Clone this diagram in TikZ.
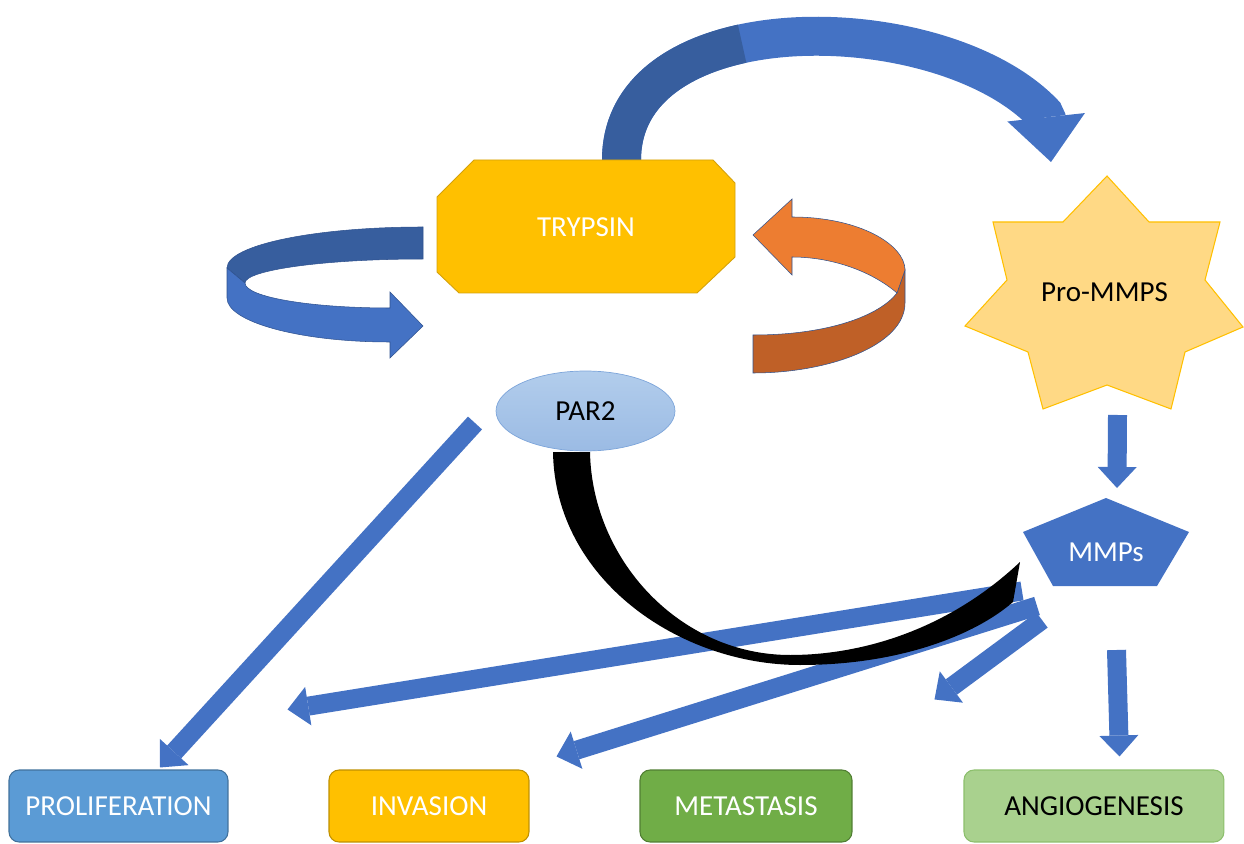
\documentclass[tikz,border=0pt]{standalone}
\usepackage{fontspec}
\setmainfont{Carlito}
\usepackage{xcolor}
\usepackage{tikz}
\usetikzlibrary{positioning,calc,arrows.meta,shapes.geometric}

\definecolor{mmpblue}{HTML}{4472C4}
\definecolor{shadeblue}{HTML}{375E9E}
\definecolor{gold}{HTML}{FFC000}
\definecolor{goldline}{HTML}{D4A10A}
\definecolor{starfill}{HTML}{FFD985}
\definecolor{partop}{HTML}{B2CDEC}
\definecolor{parbottom}{HTML}{9BBBE4}
\definecolor{parline}{HTML}{7DA5DA}
\definecolor{orangetop}{HTML}{ED7D31}
\definecolor{orangelow}{HTML}{BF6027}
\definecolor{prolifblue}{HTML}{5B9BD5}
\definecolor{prolifline}{HTML}{41719C}
\definecolor{invline}{HTML}{BF9000}
\definecolor{metgreen}{HTML}{70AD47}
\definecolor{metline}{HTML}{507E32}
\definecolor{angiogreen}{HTML}{A9D18E}
\definecolor{angioline}{HTML}{8CBF6C}
\definecolor{ribbonline}{HTML}{2F528F}

\begin{document}
\begin{tikzpicture}[x=0.02cm, y=-0.02cm, node distance=2cm,
  txt/.style={font=\fontsize{16.5}{19}\selectfont},
  outcome/.style={draw, rounded corners=0.2cm, minimum height=1.44cm, inner sep=0pt, line width=0.6pt, txt},
  blockarrow/.style={mmpblue, line width=0.38cm, -{Triangle[width=0.78cm, length=0.42cm, line width=0pt]}},
  ribbon/.style={draw=ribbonline, line width=0.3pt}]
\useasboundingbox (0,0) rectangle (1244,844);

% Main nodes
\node[txt] (trypsin) at (586,227) {};
\node[txt] (prommps) at (1104.5,292.5) {};
\node[txt] (par2) at (585.5,411) {};
\node[txt] (mmps) at (1106,552) {};

% Outcomes
\node[outcome, fill=prolifblue, draw=prolifline, text=white, minimum width=4.38cm] (prolif) at (118.5,806) {PROLIFERATION};
\node[outcome, fill=gold, draw=invline, text=white, minimum width=4cm, right=2cm of prolif] (invasion) {INVASION};
\node[outcome, fill=metgreen, draw=metline, text=white, minimum width=4.24cm, right=2.2cm of invasion] (metastasis) {METASTASIS};
\node[outcome, fill=angiogreen, draw=angioline, minimum width=5.2cm, right=2.22cm of metastasis] (angio) {ANGIOGENESIS};

% Straight arrows
\draw[blockarrow] ($(par2)+(-110.5,12)$) -- ($(prolif.north)+(41.5,-2)$);
\draw[blockarrow] ($(mmps)+(-84,39)$) -- ($(prolif.north east)+(59,-60)$);
\draw[blockarrow] ($(mmps)+(-69,54)$) -- ($(invasion.north east)+(27,-13)$);
\draw[blockarrow] ($(mmps)+(-64,68)$) -- ($(metastasis.north east)+(82,-70)$);
\draw[blockarrow] ($(prommps)+(13,122.5)$) -- ($(mmps)+(11,-64)$);
\draw[blockarrow] ($(mmps)+(10.5,98)$) -- ($(angio.north)+(25.5,-13)$);

% PAR2 to MMPs
\fill[black] (553,452) .. controls (555,580) and (680,665) .. (800,665) .. controls (900,665) and (975,635) .. (1013,602) -- (1020,562) .. controls (950,628) and (865,655) .. (790,655) .. controls (680,655) and (592,560) .. (590,452) -- cycle;

% Trypsin to Pro-MMPS
\draw[mmpblue, line width=0.78cm, line join=bevel, -{Triangle[width=1.56cm, length=0.9cm, line width=0pt]}] ($(trypsin)+(35.5,-67)$) .. controls (621.5,0) and (946,6) .. (1046,116) -- ($(prommps)+(-53.5,-130.5)$);
\draw[shadeblue, line width=0.78cm] ($(trypsin)+(35.5,-67)$) .. controls (621.5,96) and (673.4,58.6) .. (742.1,43.7);

% Loop on the left
\filldraw[ribbon, fill=shadeblue] (423,227) .. controls (315,227) and (227,245) .. (227,268) -- (245,283) .. controls (245,270) and (325,259) .. (423,259) -- cycle;
\filldraw[ribbon, fill=mmpblue] (227,268) -- (227,298) .. controls (227,322) and (300,342) .. (390,342) -- (390,358) -- (423,326) -- (390,292) -- (390,308) .. controls (310,308) and (245,297) .. (245,283) -- cycle;

% Loop on the right
\filldraw[ribbon, fill=orangelow] (905,270) -- (905,303) .. controls (905,345) and (830,373) .. (753,373) -- (753,335) .. controls (830,335) and (880,315) .. (897,293) -- cycle;
\filldraw[ribbon, fill=orangetop] (792,217) .. controls (860,217) and (905,245) .. (905,270) -- (897,293) .. controls (870,270) and (830,257) .. (792,257) -- (792,275) -- (753,235) -- (792,199) -- cycle;

% Shapes
\filldraw[fill=gold, draw=goldline, line width=0.5pt] (474,160) -- (713,160) -- (735,183) -- (735,257) -- (697,293) -- (459,293) -- (437,272) -- (437,197) -- cycle;
\filldraw[fill=starfill, draw=gold, line width=0.6pt] (1107,176) -- (1149,222) -- (1220,222) -- (1205,280) -- (1243,327) -- (1185,352) -- (1171,409) -- (1107,385) -- (1043,409) -- (1028,352) -- (965,326) -- (1007,280) -- (993,222) -- (1063,222) -- cycle;
\fill[mmpblue] (1106,498) -- (1189,532) -- (1157,586) -- (1053,586) -- (1023,532) -- cycle;
\node[txt, text=white] at (trypsin) {TRYPSIN};
\node[txt] at (prommps) {Pro-MMPS};
\node[ellipse, draw=parline, top color=partop, bottom color=parbottom, minimum width=3.58cm, minimum height=1.6cm, inner sep=0pt, txt] at (par2) {PAR2};
\node[txt, text=white] at (mmps) {MMPs};

\end{tikzpicture}
\end{document}
